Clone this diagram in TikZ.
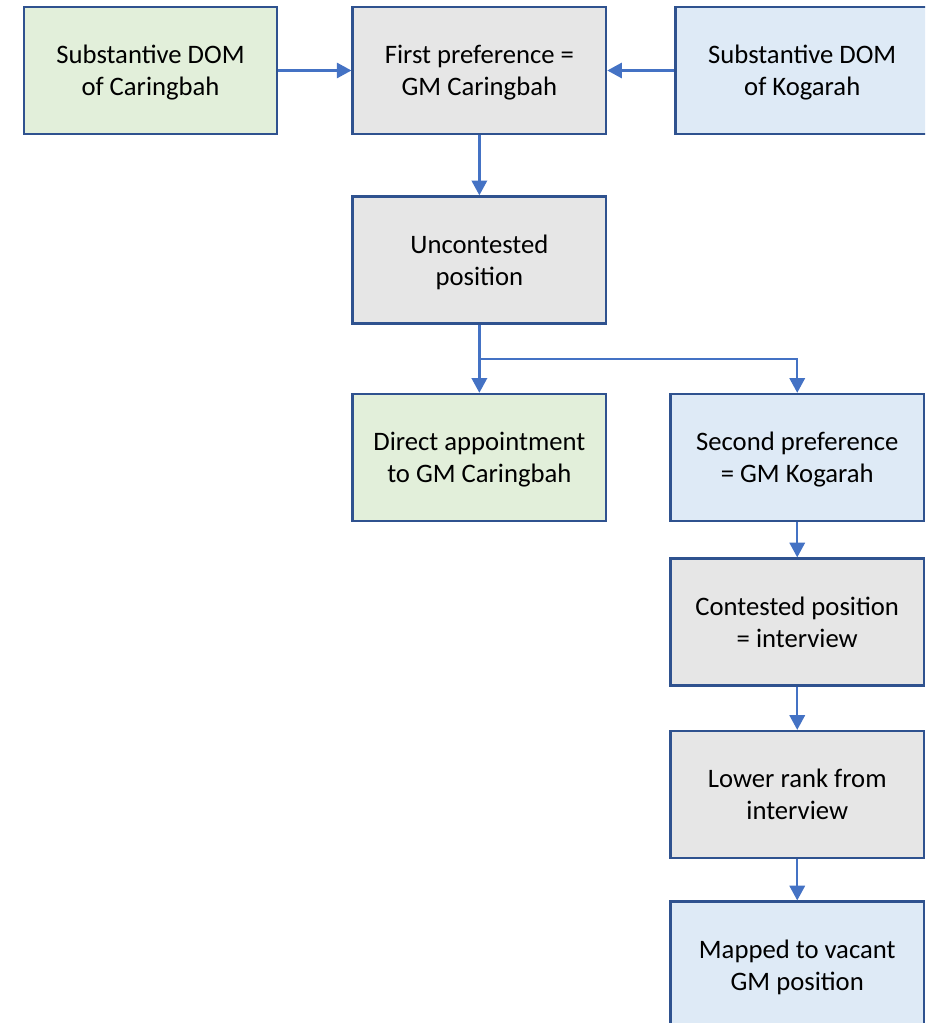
\documentclass[tikz,border=0pt]{standalone}
\usepackage{fontspec}
\setmainfont{Carlito}
\usepackage{xcolor}
\usetikzlibrary{positioning, arrows.meta}

\definecolor{edgeblue}{HTML}{2F528F}
\definecolor{linkblue}{HTML}{4472C4}
\definecolor{fillgreen}{HTML}{E2EFDA}
\definecolor{fillgrey}{HTML}{E6E6E6}
\definecolor{fillblue}{HTML}{DEEAF6}

\tikzset{
    box/.style={draw=edgeblue, line width=1.9pt, rectangle, minimum width=190pt, minimum height=95.25pt, align=center, text depth=0pt, font=\fontsize{20}{24}\selectfont},
    greenbox/.style={box, fill=fillgreen},
    greybox/.style={box, fill=fillgrey},
    bluebox/.style={box, fill=fillblue},
    link/.style={draw=linkblue, line width=1.7pt, -{Triangle[width=11.5pt, length=11pt]}}
}

\begin{document}
\begin{tikzpicture}[x=0.75pt, y=-0.75pt]
    \clip (0,0) rectangle (925,1023);
    \useasboundingbox (0,0) rectangle (925,1023);

    % Top row
    \node[greenbox] (DomCar) at (150.5,70.5) {Substantive DOM\\of Caringbah};
    \node[greybox, right=54.75pt of DomCar] (FirstPref) {First preference =\\GM Caringbah};
    \node[bluebox, right=50.25pt of FirstPref] (DomKog) {Substantive DOM\\of Kogarah};

    % Middle
    \node[greybox, below=45pt of FirstPref] (Uncont) {Uncontested\\position};
    \node[greenbox, below=51pt of Uncont] (Direct) {Direct appointment\\to GM Caringbah};
    \node[bluebox, right=46.5pt of Direct] (SecondPref) {Second preference\\= GM Kogarah};

    % Right column
    \node[greybox, below=26.25pt of SecondPref] (Contest) {Contested position\\= interview};
    \node[greybox, below=32.25pt of Contest] (LowRank) {Lower rank from\\interview};
    \node[bluebox, below=30.75pt of LowRank] (Mapped) {Mapped to vacant\\GM position};

    % Arrows
    \draw[link] (DomCar) -- (FirstPref);
    \draw[link] (DomKog) -- (FirstPref);
    \draw[link] (FirstPref) -- (Uncont);
    \draw[link] (Uncont) -- (Direct);
    \draw[link] (Uncont.south) -- ++(0,34) -| (SecondPref.north);
    \draw[link] (SecondPref) -- (Contest);
    \draw[link] (Contest) -- (LowRank);
    \draw[link] (LowRank) -- (Mapped);
\end{tikzpicture}
\end{document}
